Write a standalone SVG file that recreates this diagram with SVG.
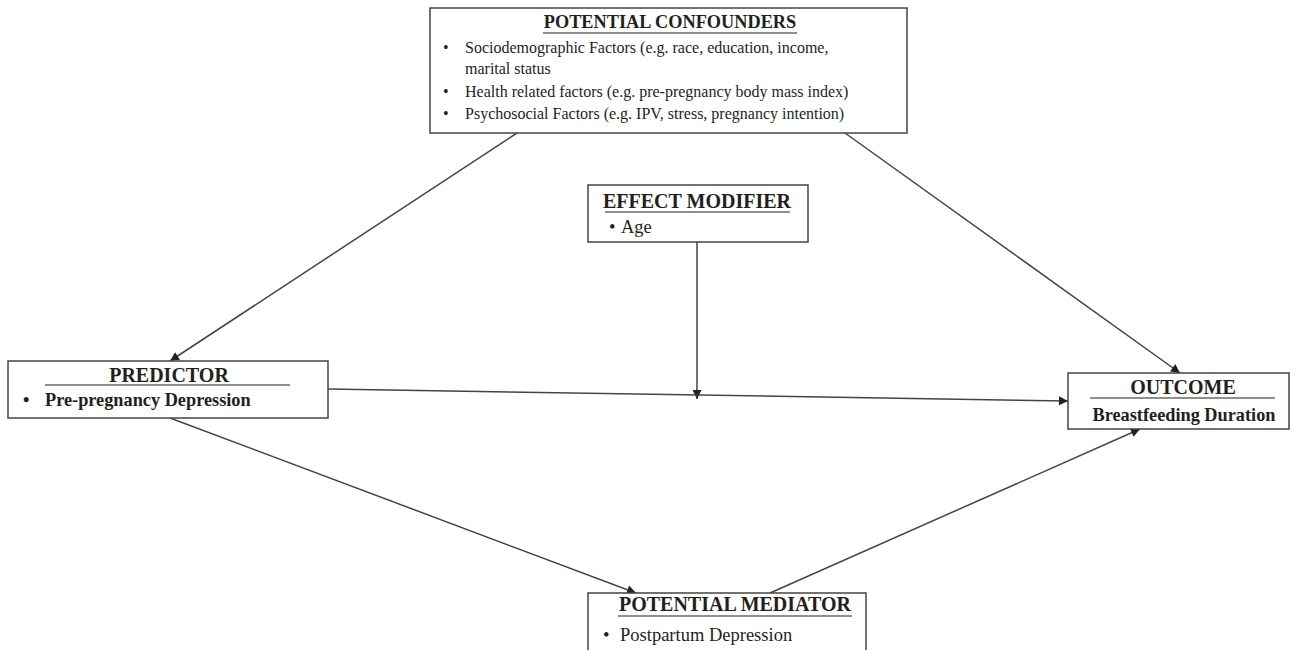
<svg xmlns="http://www.w3.org/2000/svg" width="1295" height="650" viewBox="0 0 1295 650">
<style>
.box{fill:#fff;stroke:#444;stroke-width:1.5}
.t{font-family:"Liberation Serif",serif;fill:#231f20}
.h{font-size:20px;font-weight:bold}
.h1{font-size:18.3px;font-weight:bold}
.b{font-size:16px}
.b2{font-size:18.5px}
.bb{font-size:18.3px;font-weight:bold}
.ul{stroke:#231f20;stroke-width:1.2}
.c{stroke:#444;stroke-width:1.5;fill:none;marker-end:url(#ah)}
</style>
<defs>
<marker id="ah" viewBox="0 0 10 10" refX="10" refY="5" markerWidth="11" markerHeight="9" markerUnits="userSpaceOnUse" orient="auto">
<path d="M0,0 L10,5 L0,10 z" fill="#222"/>
</marker>
</defs>
<rect width="1295" height="650" fill="#fff"/>
<g id="connectors">
<line class="c" x1="517" y1="133" x2="170" y2="361"/>
<line class="c" x1="845" y1="133" x2="1180" y2="373"/>
<line class="c" x1="697" y1="242" x2="697" y2="399"/>
<line class="c" x1="328" y1="389" x2="1068" y2="401"/>
<line class="c" x1="170" y1="418" x2="636" y2="593"/>
<line class="c" x1="770" y1="593" x2="1140" y2="429"/>
</g>
<g id="confounders">
<rect class="box" x="430" y="8" width="477" height="125"/>
<text class="t h1" x="670" y="28" text-anchor="middle">POTENTIAL CONFOUNDERS</text>
<line class="ul" x1="543" y1="33" x2="797" y2="33"/>
<text class="t b" x="443" y="53">•</text>
<text class="t b" x="465" y="53">Sociodemographic Factors (e.g. race, education, income,</text>
<text class="t b" x="465" y="74">marital status</text>
<text class="t b" x="443" y="97">•</text>
<text class="t b" x="465" y="97">Health related factors (e.g. pre-pregnancy body mass index)</text>
<text class="t b" x="443" y="119">•</text>
<text class="t b" x="465" y="119">Psychosocial Factors (e.g. IPV, stress, pregnancy intention)</text>
</g>
<g id="modifier">
<rect class="box" x="588" y="185" width="220" height="57"/>
<text class="t h" x="697" y="208" text-anchor="middle">EFFECT MODIFIER</text>
<line class="ul" x1="605" y1="212" x2="790" y2="212"/>
<text class="t b2" x="609" y="233">•</text>
<text class="t b2" x="621" y="233">Age</text>
</g>
<g id="predictor">
<rect class="box" x="8" y="361" width="320" height="57"/>
<text class="t h" x="169" y="382" text-anchor="middle">PREDICTOR</text>
<line class="ul" x1="45" y1="385" x2="290" y2="385"/>
<text class="t bb" x="23" y="406">•</text>
<text class="t bb" x="45" y="406">Pre-pregnancy Depression</text>
</g>
<g id="outcome">
<rect class="box" x="1068" y="373" width="221" height="56"/>
<text class="t h" x="1183" y="394" text-anchor="middle">OUTCOME</text>
<line class="ul" x1="1090" y1="398" x2="1275" y2="398"/>
<text class="t bb" x="1184" y="421" text-anchor="middle">Breastfeeding Duration</text>
</g>
<g id="mediator">
<rect class="box" x="588" y="593" width="278" height="70"/>
<text class="t h" x="735" y="611" text-anchor="middle">POTENTIAL MEDIATOR</text>
<line class="ul" x1="618" y1="616" x2="852" y2="616"/>
<text class="t b2" x="603" y="641">•</text>
<text class="t b2" x="620" y="641">Postpartum Depression</text>
</g>
</svg>
